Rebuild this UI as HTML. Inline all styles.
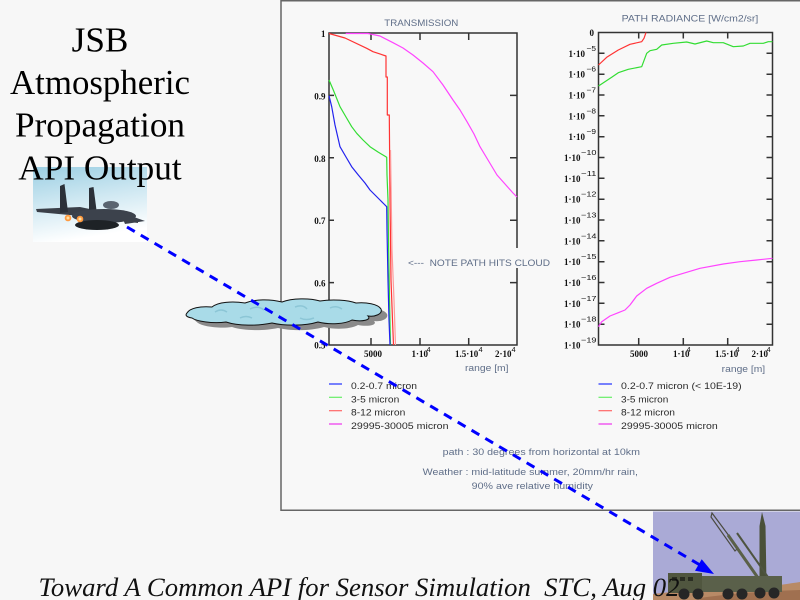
<!DOCTYPE html>
<html>
<head>
<meta charset="utf-8">
<style>
html,body{margin:0;padding:0;background:#f7f7f7;}
svg{display:block;}
.s{font-family:"Liberation Sans",sans-serif;}
.n{font-family:"Liberation Serif",serif;font-weight:bold;font-size:9px;fill:#111;}
.sp{font-family:"Liberation Sans",sans-serif;font-size:7.5px;fill:#111;}
.g{fill:#5f6e88;}
.lg{fill:#2a2a2a;font-size:9px;}
</style>
</head>
<body>
<svg width="800" height="600" viewBox="0 0 800 600" xmlns="http://www.w3.org/2000/svg">
<defs>
<linearGradient id="sky" x1="0" y1="0" x2="0.25" y2="1">
<stop offset="0" stop-color="#9ccfe3"/>
<stop offset="0.5" stop-color="#cfe8f2"/>
<stop offset="1" stop-color="#ffffff"/>
</linearGradient>
</defs>
<rect width="800" height="600" fill="#f7f7f7"/>

<!-- panel -->
<rect x="281" y="0.75" width="530" height="509.5" fill="#f8f8f8" stroke="#666" stroke-width="1.5"/>

<!-- ===== TRANSMISSION CHART ===== -->
<text class="s g" x="384.3" y="26" font-size="9.5" textLength="74" lengthAdjust="spacingAndGlyphs">TRANSMISSION</text>
<g stroke="#333" stroke-width="1.5" fill="none">
<rect x="329" y="33" width="188" height="312"/>
<path d="M329,95.4h5M329,157.8h5M329,220.2h5M329,282.6h5"/>
<path d="M517,95.4h-7M517,157.8h-7M517,220.2h-7M517,282.6h-7"/>
<path d="M371,33v7M420,33v7M468.7,33v7"/>
<path d="M371,345v-7M420,345v-7M468.7,345v-7"/>
</g>
<rect x="511" y="248" width="9" height="20" fill="#f8f8f8"/>
<g class="n" text-anchor="end">
<text x="325.5" y="37">1</text>
<text x="325.5" y="99.5">0.9</text>
<text x="325.5" y="161.8">0.8</text>
<text x="325.5" y="224.2">0.7</text>
<text x="325.5" y="286.6">0.6</text>
<text x="325.5" y="348.5">0.5</text>
</g>
<g class="n">
<text x="373" y="357" text-anchor="middle">5000</text>
<text x="411.5" y="357">1·10</text>
<text x="455" y="357">1.5·10</text>
<text x="495" y="357">2·10</text>
</g>
<g class="sp">
<text x="426.5" y="352">4</text>
<text x="478.5" y="352">4</text>
<text x="511.5" y="352">4</text>
</g>
<text class="s g" x="465" y="371" font-size="9" textLength="43.5" lengthAdjust="spacingAndGlyphs">range [m]</text>
<text class="s g" x="408" y="266" font-size="9.5" textLength="142" lengthAdjust="spacingAndGlyphs" style="white-space:pre">&lt;---  NOTE PATH HITS CLOUD</text>

<g fill="none" stroke-width="1.2" stroke-linejoin="round">
<path stroke="#ff44ff" d="M345.7,33.5 L368,33.5 L380,36 L393,42.7 L403,48 L413,55 L423,63 L433,71.7 L443,85 L453,100 L460,110 L467,121.7 L474,134 L480,146.7 L488,160 L497,175 L505,184 L513,193 L517,197"/>
<path stroke="#ff3333" d="M329,33.5 L345,38 L366.7,48.3 L373,51.7 L386,56 L386,77 L387.3,77 L387.3,115 L389.3,115 L390,200 L391,280 L392.5,320 L393.5,345"/>
<path stroke="#ff9a9a" d="M390.5,150 L392,250 L394,300 L395.5,345"/>
<path stroke="#33dd33" d="M329,80 L333.3,90 L340,106.7 L346,117 L351.7,126.7 L356.7,133.3 L363,140 L370,146.7 L378,152 L386.7,157.3 L387,175 L388,200 L388.5,240 L389.5,300 L390.5,345"/>
<path stroke="#2222ee" d="M329,95.7 L331.7,106.7 L335,125 L340,146.7 L346,157 L351.7,166.7 L358.3,175 L365,183 L370,190 L375,195 L380,200 L384,204 L386.7,206.7 L387,230 L388,280 L389,320 L390,345"/>
</g>

<!-- legend left -->
<g stroke-width="1.2">
<line x1="329" y1="384" x2="342" y2="384" stroke="#2030ff"/>
<line x1="329" y1="397.3" x2="342" y2="397.3" stroke="#66ee66"/>
<line x1="329" y1="410.7" x2="342" y2="410.7" stroke="#ff6666"/>
<line x1="329" y1="424" x2="342" y2="424" stroke="#ee33ee"/>
</g>
<g class="s lg">
<text x="351" y="389" textLength="66" lengthAdjust="spacingAndGlyphs">0.2-0.7 micron</text>
<text x="351" y="402.3" textLength="48.3" lengthAdjust="spacingAndGlyphs">3-5 micron</text>
<text x="351" y="415.7" textLength="54.3" lengthAdjust="spacingAndGlyphs">8-12 micron</text>
<text x="351" y="429" textLength="97.5" lengthAdjust="spacingAndGlyphs">29995-30005 micron</text>
</g>

<!-- ===== PATH RADIANCE CHART ===== -->
<text class="s g" x="621.7" y="21.5" font-size="9.5" textLength="136.6" lengthAdjust="spacingAndGlyphs">PATH RADIANCE [W/cm2/sr]</text>
<g stroke="#333" stroke-width="1.5" fill="none">
<rect x="598.5" y="32.5" width="174" height="312.5"/>
<path d="M598.5,53.3h6M598.5,74.2h6M598.5,95h6M598.5,115.8h6M598.5,136.7h6M598.5,157.5h6M598.5,178.3h6M598.5,199.2h6M598.5,220h6M598.5,240.8h6M598.5,261.7h6M598.5,282.5h6M598.5,303.3h6M598.5,324.2h6"/>
<path d="M772.5,53.3h-6M772.5,74.2h-6M772.5,95h-6M772.5,115.8h-6M772.5,136.7h-6M772.5,157.5h-6M772.5,178.3h-6M772.5,199.2h-6M772.5,220h-6M772.5,240.8h-6M772.5,261.7h-6M772.5,282.5h-6M772.5,303.3h-6M772.5,324.2h-6"/>
<path d="M638.7,32.5v6M683.3,32.5v6M727.7,32.5v6"/>
<path d="M638.7,345v-7M683.3,345v-7M727.7,345v-7"/>
</g>
<g class="n" text-anchor="end">
<text x="594" y="36">0</text>
<text x="585" y="56.8">1·10</text>
<text x="585" y="77.7">1·10</text>
<text x="585" y="98.5">1·10</text>
<text x="585" y="119.3">1·10</text>
<text x="585" y="140.2">1·10</text>
<text x="580.5" y="161">1·10</text>
<text x="580.5" y="181.8">1·10</text>
<text x="580.5" y="202.7">1·10</text>
<text x="580.5" y="223.5">1·10</text>
<text x="580.5" y="244.3">1·10</text>
<text x="580.5" y="265.2">1·10</text>
<text x="580.5" y="286">1·10</text>
<text x="580.5" y="306.8">1·10</text>
<text x="580.5" y="327.7">1·10</text>
<text x="580.5" y="348.5">1·10</text>
</g>
<g class="sp">
<text x="586.5" y="50.8" textLength="9.5" lengthAdjust="spacingAndGlyphs">−5</text>
<text x="586.5" y="71.7" textLength="9.5" lengthAdjust="spacingAndGlyphs">−6</text>
<text x="586.5" y="92.5" textLength="9.5" lengthAdjust="spacingAndGlyphs">−7</text>
<text x="586.5" y="113.3" textLength="9.5" lengthAdjust="spacingAndGlyphs">−8</text>
<text x="586.5" y="134.2" textLength="9.5" lengthAdjust="spacingAndGlyphs">−9</text>
<text x="581" y="155" textLength="15.5" lengthAdjust="spacingAndGlyphs">−10</text>
<text x="581" y="175.8" textLength="15.5" lengthAdjust="spacingAndGlyphs">−11</text>
<text x="581" y="196.7" textLength="15.5" lengthAdjust="spacingAndGlyphs">−12</text>
<text x="581" y="217.5" textLength="15.5" lengthAdjust="spacingAndGlyphs">−13</text>
<text x="581" y="238.3" textLength="15.5" lengthAdjust="spacingAndGlyphs">−14</text>
<text x="581" y="259.2" textLength="15.5" lengthAdjust="spacingAndGlyphs">−15</text>
<text x="581" y="280" textLength="15.5" lengthAdjust="spacingAndGlyphs">−16</text>
<text x="581" y="300.8" textLength="15.5" lengthAdjust="spacingAndGlyphs">−17</text>
<text x="581" y="321.7" textLength="15.5" lengthAdjust="spacingAndGlyphs">−18</text>
<text x="581" y="342.5" textLength="15.5" lengthAdjust="spacingAndGlyphs">−19</text>
</g>
<g class="n">
<text x="639" y="357" text-anchor="middle">5000</text>
<text x="673" y="357">1·10</text>
<text x="715" y="357">1.5·10</text>
<text x="751.5" y="357">2·10</text>
</g>
<g class="sp">
<text x="686.5" y="352">4</text>
<text x="735.5" y="352">4</text>
<text x="766.5" y="352">4</text>
</g>
<text class="s g" x="721.7" y="372" font-size="9" textLength="43.5" lengthAdjust="spacingAndGlyphs">range [m]</text>

<g fill="none" stroke-width="1.2" stroke-linejoin="round">
<path stroke="#ff3333" d="M598.5,65 L606.7,57.3 L618.3,50 L630,44.3 L641.7,41.7 L644,38.3 L646,32.5"/>
<path stroke="#33dd33" d="M598.5,86 L611.7,77.3 L618.3,72.7 L628.3,69.3 L641.7,66.7 L646.7,53.3 L650,50.7 L656.7,49.3 L661.7,45 L673.3,43.3 L686.7,42 L695,44 L706.7,41 L713.3,42.7 L723.3,42.7 L733.3,46.7 L743.3,46 L750,43.3 L763.3,43.3 L768.3,41.7 L772.5,41.7"/>
<path stroke="#ff44ff" d="M598.5,326.7 L601.7,321.7 L610,316 L618.3,312.7 L625,310 L630,305 L636.7,296 L646.7,288.3 L656.7,283.3 L670,277.3 L683.3,273.3 L700,268.3 L723.3,264 L740,261.7 L756.7,260 L772.5,258.3"/>
</g>

<!-- legend right -->
<g stroke-width="1.2">
<line x1="598.5" y1="384" x2="612" y2="384" stroke="#2030ff"/>
<line x1="598.5" y1="397.3" x2="612" y2="397.3" stroke="#66ee66"/>
<line x1="598.5" y1="410.7" x2="612" y2="410.7" stroke="#ff6666"/>
<line x1="598.5" y1="424" x2="612" y2="424" stroke="#ee33ee"/>
</g>
<g class="s lg">
<text x="621" y="389" textLength="120.7" lengthAdjust="spacingAndGlyphs">0.2-0.7 micron (&lt; 10E-19)</text>
<text x="621" y="402.3" textLength="47.3" lengthAdjust="spacingAndGlyphs">3-5 micron</text>
<text x="621" y="415.7" textLength="54" lengthAdjust="spacingAndGlyphs">8-12 micron</text>
<text x="621" y="429" textLength="96.7" lengthAdjust="spacingAndGlyphs">29995-30005 micron</text>
</g>

<!-- notes -->
<g class="s g" font-size="9.5">
<text x="442.7" y="455" textLength="197.3" lengthAdjust="spacingAndGlyphs">path : 30 degrees from horizontal at 10km</text>
<text x="422.7" y="475" textLength="215.3" lengthAdjust="spacingAndGlyphs">Weather : mid-latitude summer, 20mm/hr rain,</text>
<text x="471.7" y="489" textLength="121.3" lengthAdjust="spacingAndGlyphs">90% ave relative humidity</text>
</g>

<!-- ===== JET IMAGE ===== -->
<rect x="33" y="167" width="114" height="75" fill="url(#sky)"/>
<g>
<polygon points="36,209 80,207 138,219 138,223 80,216 37,212" fill="#3a3f48"/>
<polygon points="60,186 64.5,184 68,212 60,213" fill="#2b3038"/>
<polygon points="89,188 93.5,187 97,214 89,215" fill="#2b3038"/>
<ellipse cx="104" cy="216" rx="32" ry="7" fill="#3c424c"/>
<polygon points="120,212 145,221 125,224" fill="#3c424c"/>
<ellipse cx="111" cy="205" rx="8" ry="4" fill="#5a6470"/>
<ellipse cx="97" cy="225" rx="22" ry="5" fill="#1e2226"/>
<circle cx="68" cy="218" r="3.3" fill="#ff9a40"/>
<circle cx="80" cy="219" r="3.3" fill="#ff9a40"/>
<circle cx="68" cy="218" r="1.5" fill="#ffe0a0"/>
<circle cx="80" cy="219" r="1.5" fill="#ffe0a0"/>
</g>

<!-- title -->
<g font-family="'Liberation Serif',serif" font-size="35" fill="#000">
<text x="71.7" y="51.5" textLength="56.7" lengthAdjust="spacingAndGlyphs">JSB</text>
<text x="10" y="94" textLength="180" lengthAdjust="spacingAndGlyphs">Atmospheric</text>
<text x="15" y="136.7" textLength="170" lengthAdjust="spacingAndGlyphs">Propagation</text>
<text x="18.3" y="179.3" textLength="163.4" lengthAdjust="spacingAndGlyphs">API Output</text>
</g>

<!-- ===== CLOUD ===== -->
<path d="M192,318 C197,312 207,311 218,312 C224,307 238,306 251,308 C261,304 276,304 288,307 C298,303 316,303 326,306 C338,304 354,305 362,308 C372,307 384,309 387,314 C389,319 381,322 374,321 C378,325 368,327 358,325 C351,329 336,330 324,327 C311,331 291,331 278,328 C264,331 244,331 232,327 C218,329 202,326 198,323 Z" fill="#8a8a8a"/>
<path d="M187,313 C190,308 200,306 212,307 C218,302 232,301 245,303 C255,299 270,299 282,302 C292,298 310,298 320,301 C332,299 348,300 356,303 C366,302 378,304 381,309 C383,314 375,317 368,316 C372,320 362,322 352,320 C345,324 330,325 318,322 C305,326 285,326 272,323 C258,326 238,326 226,322 C212,324 196,321 192,318 C186,317 185,315 187,313 Z" fill="#a9dbe8" stroke="#111" stroke-width="1"/>
<g fill="none" stroke="#8cc6d6" stroke-width="1.5">
<path d="M215,312 q6,-4 12,0"/><path d="M250,309 q8,-4 14,1"/><path d="M295,307 q8,-3 12,2"/><path d="M330,308 q6,-3 12,1"/><path d="M240,318 q6,-3 12,0"/><path d="M300,318 q6,3 14,0"/>
</g>

<!-- ===== LAUNCHER IMAGE ===== -->
<rect x="653" y="511.5" width="147" height="88.5" fill="#aaaad6"/>
<path d="M653,600 L653,594 Q700,588 745,590 Q780,585 800,582 L800,600 Z" fill="#b88a66"/>
<path d="M700,598 Q740,592 800,590 L800,600 L700,600 Z" fill="#a07050"/>
<polygon points="762,512 765.5,526 766.5,584 759.5,584 759.5,526" fill="#4a5038"/>
<path d="M712,513 L738,548 L735,551 L711,517 Z" fill="none" stroke="#4a4a40" stroke-width="1.2"/>
<line x1="728" y1="535" x2="763" y2="585" stroke="#5a6048" stroke-width="3"/>
<line x1="737" y1="533" x2="770" y2="580" stroke="#4e5440" stroke-width="2"/>
<rect x="672" y="576" width="110" height="16" fill="#5a604a"/>
<rect x="668" y="573" width="34" height="20" fill="#50563f"/>
<rect x="672" y="577" width="5" height="4" fill="#2a2d22"/>
<rect x="680" y="577" width="5" height="4" fill="#2a2d22"/>
<rect x="688" y="577" width="5" height="4" fill="#2a2d22"/>
<g fill="#262626">
<circle cx="684" cy="594" r="5.5"/><circle cx="698" cy="594" r="5.5"/><circle cx="728" cy="594" r="5.5"/><circle cx="742" cy="594" r="5.5"/><circle cx="760" cy="593" r="5.5"/><circle cx="774" cy="593" r="5.5"/>
</g>

<!-- dashed path -->
<line x1="127" y1="227" x2="700" y2="565" stroke="#0000ff" stroke-width="3" stroke-dasharray="9 7"/>
<polygon points="695,570.7 701.7,559.3 714,574" fill="#0000ff"/>

<!-- footer -->
<text x="38.5" y="596" font-family="'Liberation Serif',serif" font-style="italic" font-size="26.5" fill="#111" textLength="641" lengthAdjust="spacingAndGlyphs" style="white-space:pre">Toward A Common API for Sensor Simulation  STC, Aug 02</text>
</svg>
</body>
</html>
